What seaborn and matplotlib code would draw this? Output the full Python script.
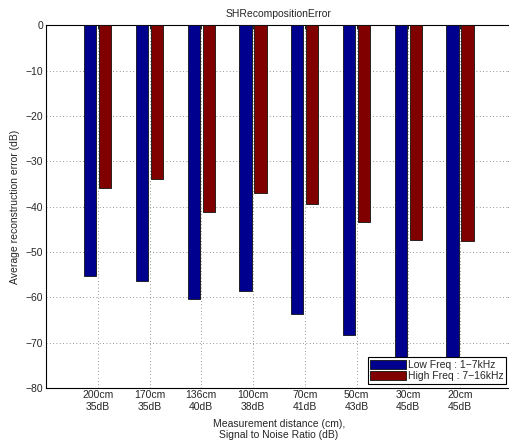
import numpy as np
import pandas as pd
import matplotlib
matplotlib.use('Agg')
import matplotlib.pyplot as plt
import seaborn as sns

# Values
distances = ['200cm\n35dB', '170cm\n35dB', '136cm\n40dB', '100cm\n38dB',
             '70cm\n41dB', '50cm\n43dB', '30cm\n45dB', '20cm\n45dB']
low_freq = [-55.3, -56.3, -60.4, -58.5, -63.7, -68.4, -76.0, -76.5]
high_freq = [-36.0, -34.0, -41.2, -37.1, -39.4, -43.4, -47.4, -47.6]
series_names = ['Low Freq : 1\u22127kHz', 'High Freq : 7\u221216kHz']

# Long-form table for seaborn
df = pd.DataFrame({
    'distance': distances * 2,
    'error': low_freq + high_freq,
    'band': [series_names[0]] * len(distances) + [series_names[1]] * len(distances),
})

sns.set_style('white')
plt.rcParams['font.family'] = ['Liberation Sans', 'DejaVu Sans']
plt.rcParams['font.size'] = 7.5

fig = plt.figure(figsize=(5.09, 4.41), dpi=100)
ax = fig.add_axes([0.0904, 0.120, 0.915, 0.823])

sns.barplot(data=df, x='distance', y='error', hue='band', order=distances,
            hue_order=series_names, palette=['#00008F', '#800000'], saturation=1,
            width=0.58, gap=0.17, edgecolor='#111111', linewidth=0.6,
            errorbar=None, ax=ax, zorder=3)

ax.set_xlim(-1, 8)
ax.set_ylim(-80, 0)
ax.set_yticks(np.arange(-80, 1, 10))
ax.grid(True, linestyle=(0, (1, 3)), color='0.45', linewidth=0.6, zorder=0)
ax.set_axisbelow(True)

ax.tick_params(direction='in', length=3, width=0.6, top=True, right=True,
               labelsize=7.5, color='black', pad=2)
ax.tick_params(axis='x', pad=1.5)
for s in ax.spines.values():
    s.set_color('black')
    s.set_linewidth(0.8)

ax.set_title('SHRecompositionError', fontsize=7.5, pad=6)
ax.set_xlabel('Measurement distance (cm),\nSignal to Noise Ratio (dB)', fontsize=7.5,
              labelpad=5, linespacing=1.1)
ax.set_ylabel('Average reconstruction error (dB)', fontsize=7.5, labelpad=4)

leg = ax.legend(loc='lower right', bbox_to_anchor=(0.997, 0.0), fontsize=7.5,
                handlelength=3.4, handleheight=1.0, handletextpad=0.2,
                borderpad=0.25, labelspacing=0.1, fancybox=False, framealpha=1,
                borderaxespad=0.4)
leg.get_frame().set_edgecolor('black')
leg.get_frame().set_linewidth(0.8)

fig.savefig('out.png', dpi=100)
